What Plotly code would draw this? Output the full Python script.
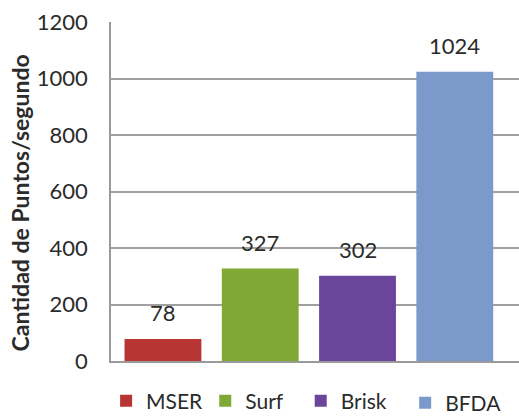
import plotly.graph_objects as go

# Processing speed of each detector
detectors = ["MSER", "Surf", "Brisk", "BFDA"]
points_per_second = [78, 327, 302, 1024]
bar_colors = ["#b73633", "#80a834", "#6a459a", "#7c99cb"]

y_ticks = [0, 200, 400, 600, 800, 1000, 1200]

# Legend entry anchors (paper fraction) and vertical positions
legend_x = [-0.012, 0.231, 0.465, 0.721]
legend_y = [-0.118, -0.118, -0.118, -0.124]

FONT = "Lato"
TEXT = "#2b2b2b"

fig = go.Figure()

legend_ids = ["legend", "legend2", "legend3", "legend4"]
for name, val, col, lid in zip(detectors, points_per_second, bar_colors, legend_ids):
    fig.add_trace(go.Bar(
        x=[name], y=[val], name=name,
        marker=dict(color=col, line=dict(width=0)),
        width=0.79,
        showlegend=True,
        legend=lid,
    ))

# Value labels above each bar
for name, val in zip(detectors, points_per_second):
    fig.add_annotation(
        x=name, y=val, text=str(val), showarrow=False,
        yanchor="bottom", yshift=11,
        font=dict(family=FONT, size=22, color=TEXT),
    )

# Vertical axis title
fig.add_annotation(
    text="<b>Cantidad de Puntos/segundo</b>",
    xref="paper", yref="paper", x=-0.223, y=0.465,
    textangle=-90, showarrow=False,
    xanchor="center", yanchor="middle",
    font=dict(family=FONT, size=23, color=TEXT),
)

legend_style = dict(
    orientation="h",
    xref="paper", yref="paper",
    xanchor="left", yanchor="middle",
    font=dict(family=FONT, size=21, color=TEXT),
    bgcolor="rgba(0,0,0,0)", borderwidth=0,
    itemclick=False, itemdoubleclick=False,
)

fig.update_layout(
    width=519, height=417,
    margin=dict(l=111, r=0, t=22, b=56, autoexpand=False),
    paper_bgcolor="white", plot_bgcolor="white",
    barmode="overlay",
    xaxis=dict(
        type="category",
        categoryorder="array", categoryarray=detectors,
        range=[-0.534, 3.66],
        showticklabels=False, ticks="",
        showline=True, linecolor="#9a9a9a", linewidth=1.5,
        showgrid=False, zeroline=False,
    ),
    yaxis=dict(
        range=[0, 1200],
        tickvals=y_ticks,
        ticktext=[str(v) for v in y_ticks],
        tickfont=dict(family=FONT, size=22, color=TEXT),
        ticks="", ticklabelstandoff=17,
        showgrid=True, gridcolor="#a0a0a0", gridwidth=1.6,
        showline=True, linecolor="#9a9a9a", linewidth=1.5,
        zeroline=False,
    ),
)

for lid, lx, ly in zip(legend_ids, legend_x, legend_y):
    fig.update_layout({lid: dict(legend_style, x=lx, y=ly)})

fig.write_html("out.html")
